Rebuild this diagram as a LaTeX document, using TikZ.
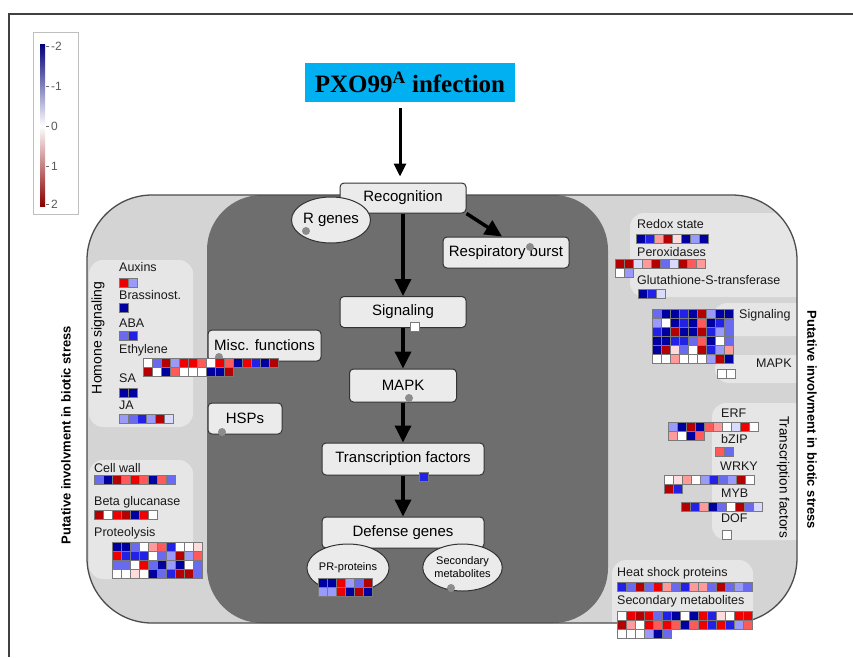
\documentclass[tikz,border=0pt]{standalone}
\usepackage{fontspec}
\setmainfont{Liberation Sans}
\newfontfamily\serifbf{Liberation Serif}
\usetikzlibrary{arrows.meta,shapes.geometric}
\definecolor{hmB}{HTML}{0000A0}
\definecolor{hmb}{HTML}{2222E6}
\definecolor{hmm}{HTML}{6A6AEE}
\definecolor{hml}{HTML}{9A9AFA}
\definecolor{hmv}{HTML}{DADAFF}
\definecolor{hmW}{HTML}{FFFFFF}
\definecolor{hmp}{HTML}{FFDCDC}
\definecolor{hmk}{HTML}{FF9A9A}
\definecolor{hms}{HTML}{FF5A5A}
\definecolor{hmR}{HTML}{EE0000}
\definecolor{hmD}{HTML}{B40000}
\definecolor{hmgrid}{HTML}{7A7A7A}
\definecolor{outerbg}{HTML}{D4D4D4}
\definecolor{darkbg}{HTML}{6E6E6E}
\definecolor{panelbg}{HTML}{E6E6E6}
\definecolor{boxbg}{HTML}{EBEBEB}
\definecolor{infobg}{HTML}{00B0F0}
\definecolor{legblue}{HTML}{00007A}
\definecolor{legred}{HTML}{8A0000}
\newcommand{\hmap}[3]{%
  \foreach \hrow [count=\hri from 0] in {#3} {
    \foreach \hc [count=\hci from 0] in \hrow {
      \filldraw[hmcell, fill=hm\hc] ({#1+\hci*9},{#2+\hri*9}) rectangle ++(9,9);
    }
  }%
}
\tikzset{
  hmcell/.style={draw=hmgrid, line width=0.8pt},
  procbox/.style={draw=black!80, fill=boxbg, rounded corners=4pt, line width=1pt, inner sep=0pt, font=\fontsize{15}{17}\selectfont},
  procell/.style={ellipse, draw=black!80, fill=boxbg, line width=1pt, inner sep=0pt},
  lbl/.style={anchor=west, inner sep=0pt, font=\fontsize{12.5}{14}\selectfont, text=black!90},
  vtitle/.style={inner sep=0pt, font=\bfseries\fontsize{13}{15}\selectfont},
  panel/.style={fill=panelbg, rounded corners=14pt},
  arrB/.style={line width=3.5pt, -{Triangle[length=17pt,width=16pt]}},
  arrA/.style={line width=3pt, -{Triangle[length=13pt,width=12pt]}},
  gdot/.style={fill=black!45},
  leglbl/.style={anchor=west, inner sep=0pt, text=black!65, font=\fontsize{12}{14}\selectfont},
}
\begin{document}
\begin{tikzpicture}[x=1pt,y=-1pt]
\useasboundingbox (0,0) rectangle (853,657);
\fill[white] (0,0) rectangle (853,657);
% frame
\draw[line width=1.3pt, black!75] (853,14) -- (9,14) -- (9,657);
% legend
\draw[draw=black!25, fill=white, line width=0.8pt] (33,32) rectangle (78,214);
\shade[top color=legblue, bottom color=white] (40,44) rectangle (45,126);
\shade[top color=white, bottom color=legred] (40,126) rectangle (45,206);
\foreach \ly/\lt in {46/-2, 86/-1, 126/0, 166/1, 204/2} {
  \draw[black!60, line width=0.8pt] (46,\ly) -- (49,\ly);
  \node[leglbl] at (51,\ly) {\lt};
}
% infection
\node[fill=infobg, minimum width=210pt, minimum height=39pt, inner sep=0pt,
      font=\serifbf\bfseries\fontsize{25}{28}\selectfont] (inf) at (410,82.5) {PXO99\textsuperscript{A} infection};
% outer region
\fill[outerbg, rounded corners=65pt] (87,195) rectangle (797,623);
\begin{scope}
  \clip[rounded corners=65pt] (87,195) rectangle (797,623);
  \fill[panel] (89,260) rectangle (193,427);
  \fill[panel] (89,460) rectangle (193,579);
  \fill[panel] (630,213) rectangle (820,297);
  \fill[panel] (713,303) rectangle (820,336);
  \fill[panel] (715,355) rectangle (820,383);
  \fill[panel] (712,403) rectangle (820,540);
  \fill[panel] (612,560) rectangle (753,640);
\end{scope}
\fill[darkbg, rounded corners=55pt] (207,195) rectangle (608,623);
\draw[black!70, line width=1.3pt, rounded corners=65pt] (87,195) rectangle (797,623);
% titles
\node[vtitle, rotate=90] (ltitle) at (66,435) {Putative involvment in biotic stress};
\node[vtitle, rotate=-90] (rtitle) at (812,420) {Putative involvment in biotic stress};
\node[inner sep=0pt, rotate=90, font=\fontsize{14}{16}\selectfont] (horm) at (98,338) {Homone signaling};
\node[inner sep=0pt, rotate=-90, font=\fontsize{13.5}{16}\selectfont] (tfr) at (783,477) {Transcription factors};
% central nodes
\node[procbox, minimum width=126pt, minimum height=30pt] (rec) at (403,198) {Recognition};
\node[procell, minimum width=75pt, minimum height=46pt, font=\fontsize{15}{17}\selectfont] (rgen) at (331,220) {R genes};
\fill[gdot] (306,231) circle (4);
\node[procbox, minimum width=126pt, minimum height=31pt] (resp) at (506,252.5) {Respiratory burst};
\fill[gdot] (530,247) circle (4);
\node[procbox, minimum width=126pt, minimum height=31pt] (sig) at (403,312) {Signaling};
\node[procbox, minimum width=107pt, minimum height=33pt] (mapk) at (403,385.5) {MAPK};
\fill[gdot] (409,398) circle (4);
\node[procbox, minimum width=162pt, minimum height=32pt] (tf) at (403,459) {Transcription factors};
\node[procbox, minimum width=162pt, minimum height=31pt] (def) at (403,532.5) {Defense genes};
\node[procell, minimum width=82pt, minimum height=48pt, font=\fontsize{11}{13}\selectfont] (pr) at (348,568) {\raisebox{1pt}{PR-proteins}};
\node[procell, minimum width=79pt, minimum height=47pt, align=center, font=\fontsize{11}{13}\selectfont] (secm) at (462.5,567.5) {Secondary\\metabolites};
\fill[gdot] (451,588) circle (4);
\node[procbox, minimum width=113pt, minimum height=31pt] (misc) at (264.5,345.5) {Misc. functions};
\fill[gdot] (219,357) circle (4);
\node[procbox, minimum width=74pt, minimum height=31pt] (hsp) at (245,418.5) {HSPs};
\fill[gdot] (222,432) circle (4);
% arrows
\draw[arrA] ([xshift=-10pt,yshift=-6pt]inf.south) -- ([xshift=-3pt,yshift=6pt]rec.north);
\draw[arrB] (rec) -- (sig);
\draw[arrB] (rec.south east) -- ([xshift=-4pt]resp.north);
\draw[arrB] (sig) -- (mapk);
\draw[arrB] (mapk) -- (tf);
\draw[arrB] (tf) -- (def);
% small markers on central nodes
\hmap{410}{322}{{W}}
\hmap{419}{472}{{b}}
\hmap{318}{578}{{B,B,R,l,m,D},{l,l,R,B,D,B}}
% hormone panel
\node[lbl] (auxl) at (119,267) {Auxins};
\hmap{119}{278}{{R,l}}
\node[lbl] (brl) at (119,295) {Brassinost.};
\hmap{119}{303}{{B}}
\node[lbl] (abal) at (119,323) {ABA};
\hmap{119}{331}{{m,b}}
\node[lbl] (ethl) at (119,350) {Ethylene};
\hmap{143}{358}{{W,m,D,l,R,R,s,W,R,s,B,R,b,B,D},{D,W,B,s,W,W,W,B,B,D}}
\node[lbl] (sal) at (119,378) {SA};
\hmap{119}{388}{{B,B}}
\node[lbl] (jal) at (119,405) {JA};
\hmap{119}{414}{{l,m,b,l,D,v}}
% cell wall panel
\node[lbl] (cwl) at (94,468) {Cell wall};
\hmap{94}{475}{{m,B,D,s,R,s,B,s,m}}
\node[lbl] (bgl) at (94,502) {Beta glucanase};
\hmap{94}{510}{{D,W,R,D,B,R,W}}
\node[lbl] (prl) at (94,533) {Proteolysis};
\hmap{112}{542}{{B,B,m,W,k,s,b,W,W,p},{R,b,b,b,W,m,l,D,l,s},{m,m,W,R,m,B,l,B,W,m},{W,W,p,W,B,m,b,D,D,m}}
% redox panel
\node[lbl] (rdl) at (637,224) {Redox state};
\hmap{636}{234}{{B,b,k,D,p,B,l,B}}
\node[lbl] (pxl) at (637,252) {Peroxidases};
\hmap{615}{259}{{D,D,v,k,D,m,v,D,s,k},{W,l}}
\node[lbl] (gstl) at (637,280) {Glutathione-S-transferase};
\hmap{638}{289}{{B,b,v}}
% signaling / MAPK
\hmap{652}{309}{{m,B,B,b,B,D,l,B,B},{l,W,B,b,B,s,B,b,m},{b,B,D,B,B,D,b,l,m},{B,B,b,b,m,s,B,W,m},{B,D,p,m,W,D,b,l,k},{W,W,k,W,W,W,l,D,B}}
\node[lbl] (sgl) at (739,315) {Signaling};
\node[lbl] (mkl) at (756,363) {MAPK};
\hmap{717}{369}{{W,W}}
% transcription factors
\node[lbl] (erfl) at (721,413) {ERF};
\hmap{668}{422}{{l,B,D,B,s,k,W,v,R,W},{k,W,B,s}}
\node[lbl] (bzl) at (721,439) {bZIP};
\hmap{715}{447}{{s,m}}
\node[lbl] (wrl) at (720,466) {WRKY};
\hmap{664}{475}{{W,p,k,W,l,b,m,l,D,W},{D,b}}
\node[lbl] (mybl) at (721,493) {MYB};
\hmap{681}{502}{{D,b,k,B,m,W,D,m,v}}
\node[lbl] (dofl) at (721,518) {DOF};
\hmap{722}{530}{{W}}
% heat shock / secondary metabolites
\node[lbl] (hspl) at (617,573) {Heat shock proteins};
\hmap{617}{582}{{b,m,D,m,R,k,m,b,k,k,m,D,m,l,m}}
\node[lbl] (sml) at (617,601) {Secondary metabolites};
\hmap{617}{611}{{W,R,D,R,m,b,B,W,B,R,b,p,W,R,R},{D,k,W,R,s,R,s,B,s,R,b,R,b,l,s},{W,W,W,l,B,m}}
\end{tikzpicture}
\end{document}
